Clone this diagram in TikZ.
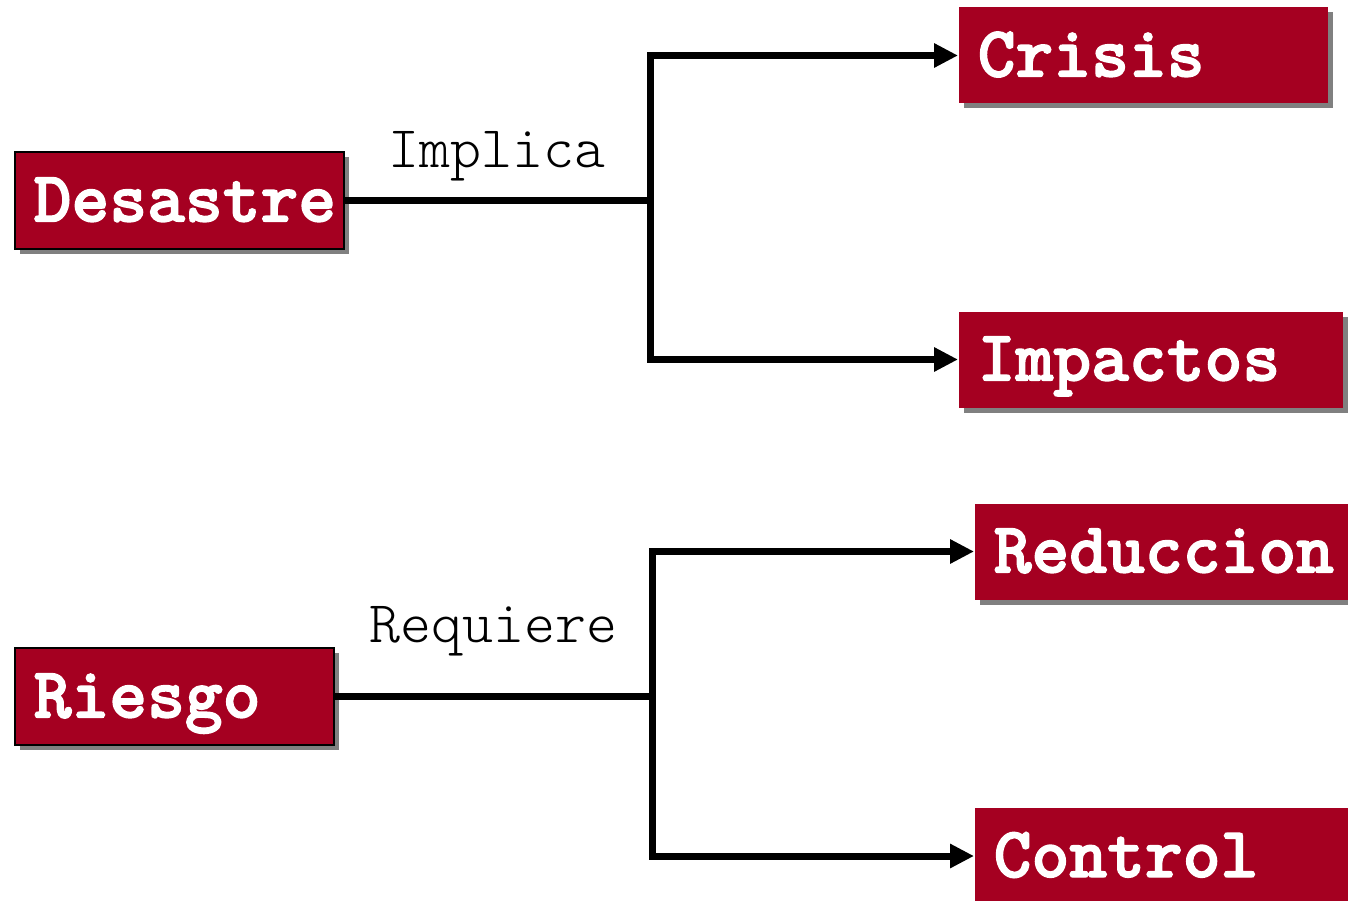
\documentclass[tikz,border=0pt]{standalone}
\usepackage{fontspec}
\usetikzlibrary{arrows.meta,shapes,shadows,positioning}
\usepackage{xcolor}
\definecolor{riesgored}{RGB}{165,0,33}
\definecolor{shadowgray}{RGB}{128,128,128}
\newfontfamily\boxmono{lmmonolt10-bold.otf}[FakeBold=2]
\newfontfamily\relmono{lmmonolt10-regular.otf}
\newcommand{\boxfont}{\boxmono\fontsize{72}{72}\selectfont}
\newcommand{\relfont}{\relmono\fontsize{59}{59}\selectfont}
\tikzset{
	concept/.style={
		rectangle,
		draw=black,
		line width=1.5pt,
		fill=riesgored,
		text=white,
		font=\boxfont,
		anchor=west,
		align=left,
		inner xsep=19pt,
		inner ysep=0pt,
		minimum height=97pt,
		text height=42pt,
		text depth=0pt,
		drop shadow={shadow xshift=5pt,shadow yshift=-5pt,fill=shadowgray,opacity=1},
	},
	outcome/.style={
		concept,
		draw=none,
		minimum height=96pt,
	},
	relation/.style={
		font=\relfont,
		anchor=base,
		inner sep=0pt,
	},
	link/.style={
		line width=7pt,
	},
	arc/.style={
		-{Triangle[length=24pt,width=23pt]},
		line width=7pt,
	},
}
\begin{document}
\begin{tikzpicture}[x=1pt,y=-1pt]
	\useasboundingbox (0,0) rectangle (1348,901);

	\node [concept, text width=291pt] (desastre) at (14,200.5) {Desastre};
	\node [concept, text width=281pt] (riesgo) at (14,696.5) {Riesgo};

	\node [
	  outcome,
	  text width=331pt,
	] (crisis) at (958,55.5) {Crisis};
	\node [
	  outcome,
	  text width=346pt,
	] (impactos) at (958,359.5) {Impactos};
	\node [
	  outcome,
	  text width=346pt,
	] (reduccion) at (974,551.5) {Reduccion};
	\node [
	  outcome,
	  text width=346pt,
	] (control) at (974,856) {Control};

	\coordinate (j1) at (650,200.5);
	\coordinate (j2) at (652,696.5);

	\draw[link] (desastre) -- node[relation, midway, yshift=33pt] {Implica} (j1);
	\draw[arc] (j1) |- (crisis);
	\draw[arc] (j1) |- (impactos);

	\draw[link] (riesgo) -- node[relation, midway, yshift=54pt] {Requiere} (j2);
	\draw[arc] (j2) |- (reduccion);
	\draw[arc] (j2) |- (control);
\end{tikzpicture}
\end{document}
